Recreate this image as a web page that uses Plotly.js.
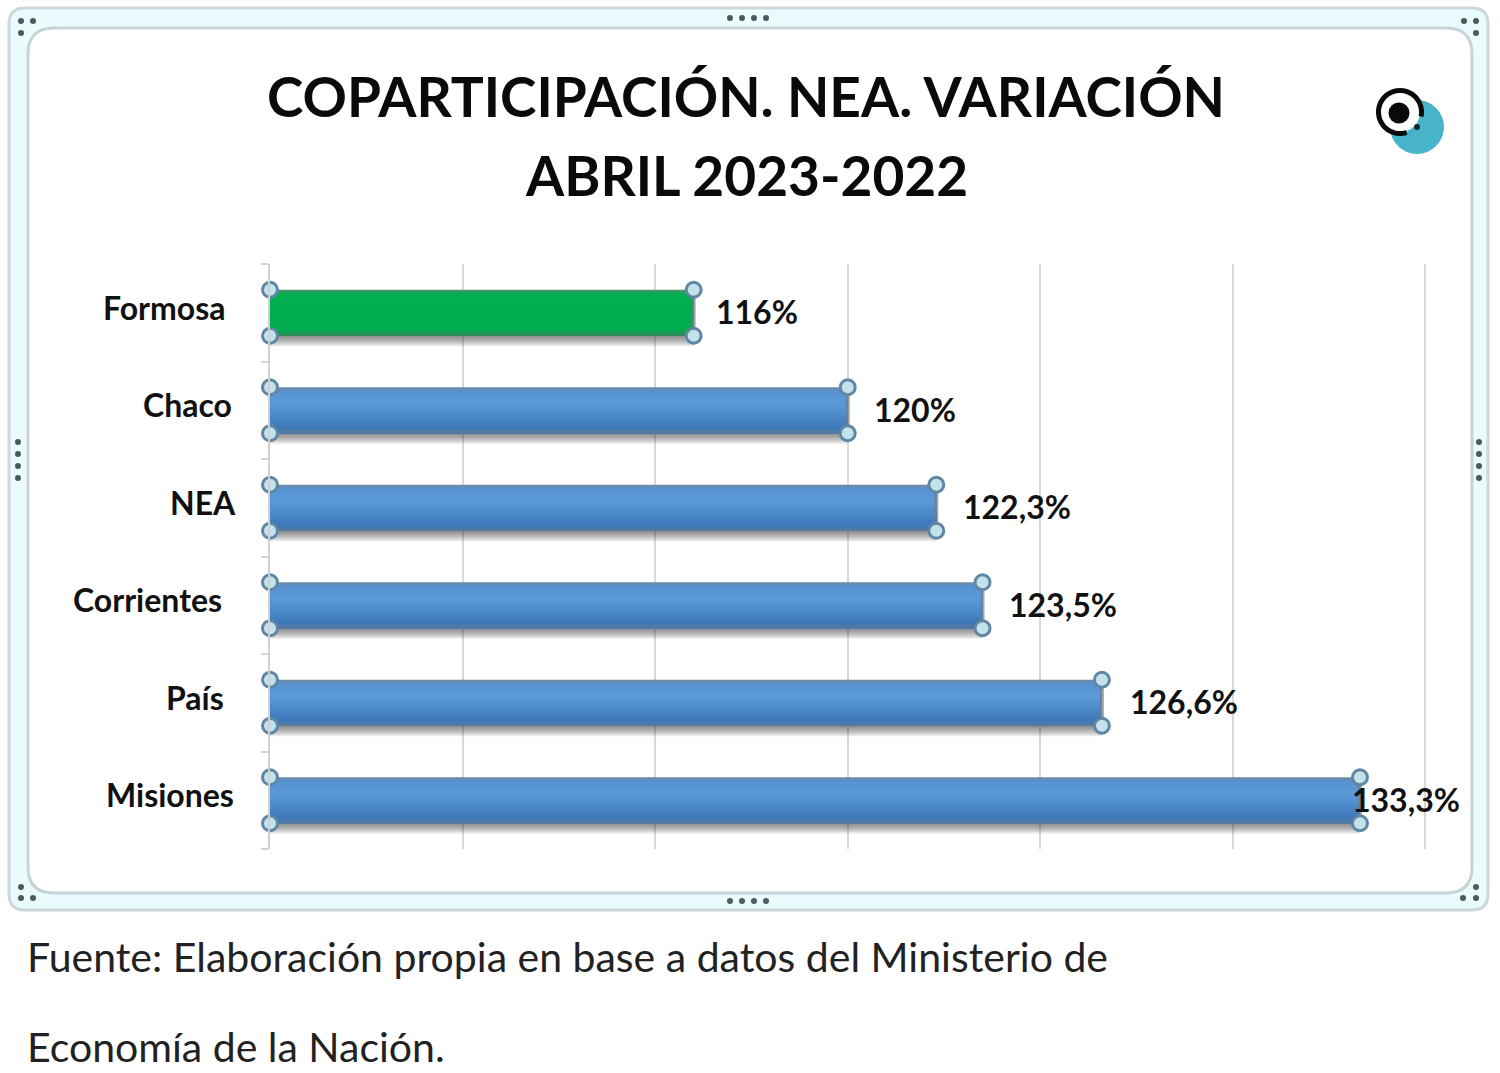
<!DOCTYPE html>
<html>
<head>
<meta charset="utf-8">
<script src="https://cdn.plot.ly/plotly-3.0.1.min.js"></script>
<style>
    html, body { margin: 0; padding: 0; background: #fff; }
    #chart { width: 1500px; height: 1073px; }
</style>
</head>
<body>
<div id="chart"></div>
<script>
// Chart data
const categories = ['Formosa', 'Chaco', 'NEA', 'Corrientes', 'País', 'Misiones'];
const values = [116, 120, 122.3, 123.5, 126.6, 133.3];
const valueLabels = ['116%', '120%', '122,3%', '123,5%', '126,6%', '133,3%'];
const titleLines = ['COPARTICIPACIÓN. NEA. VARIACIÓN', 'ABRIL 2023-2022'];
const sourceLines = ['Fuente: Elaboración propia en base a datos del Ministerio de', 'Economía de la Nación.'];
const axisMin = 105;
const axisMax = 135;
const axisStep = 5;

// Page and plot geometry, in pixels
const W = 1500, H = 1073;
const M = { l: 270, r: 73, t: 264, b: 224 };
const px = (x) => (x - M.l) / (W - M.l - M.r);
const py = (y) => 1 - (y - M.t) / (H - M.t - M.b);

// Hand placement of the labels, the original has them a bit uneven
const catRight = [227, 234, 238, 224, 226, 236];
const catShift = [5, 6, 5, 6, 5, 6];
const labelShift = [20, 24, 25, 24, 26, -10];

const barHalf = 0.236;
const FONT = 'Lato, "Open Sans", sans-serif';

// The library has no gradient for bars, so each bar is a stack of strips
const blueStops = [[0, [108, 138, 168]], [0.07, [86, 146, 210]], [0.35, [92, 154, 218]], [0.92, [60, 120, 184]], [1, [88, 122, 156]]];
const greenStops = [[0, [70, 150, 105]], [0.07, [0, 176, 80]], [0.9, [0, 172, 78]], [1, [50, 135, 90]]];
const shadowLayers = 7;
const stripCount = 23;

function rampColor(stops, t) {
    for (let i = 1; i < stops.length; i++) {
        if (t <= stops[i][0]) {
            const k = (t - stops[i - 1][0]) / (stops[i][0] - stops[i - 1][0]);
            const c = stops[i][1].map((v, j) => Math.round(stops[i - 1][1][j] + (v - stops[i - 1][1][j]) * k));
            return `rgb(${c[0]},${c[1]},${c[2]})`;
        }
    }
    return 'rgb(' + stops[stops.length - 1][1].join(',') + ')';
}

function stripTraces() {
    const traces = [];
    const ys = categories.map((c, i) => i);
    const h = barHalf * 2 / stripCount;

    // shadow under the bar, nested so the alpha builds up next to the bar
    for (let s = shadowLayers; s >= 1; s--) {
        traces.push({
            type: 'bar', orientation: 'h', x: values, y: ys,
            width: s * 0.0154, offset: barHalf,
            marker: { color: 'rgba(60,60,60,0.11)', line: { width: 0 } },
            hoverinfo: 'skip', showlegend: false
        });
    }

    // every strip runs down to the bar's bottom, the next one paints over it
    for (let s = 0; s < stripCount; s++) {
        const t = s / (stripCount - 1);
        traces.push({
            type: 'bar', orientation: 'h', x: values, y: ys,
            width: (stripCount - s) * h, offset: -barHalf + s * h,
            marker: { color: categories.map((c, i) => rampColor(i === 0 ? greenStops : blueStops, t)), line: { width: 0 } },
            hoverinfo: 'skip', showlegend: false
        });
    }
    return traces;
}

// Selection handles on the four corners of each bar
function handleTrace() {
    const x = [], y = [];
    values.forEach((v, i) => {
        [axisMin, v].forEach((xv) => {
            [-barHalf, barHalf].forEach((d) => {
                x.push(xv);
                y.push(i + d);
            });
        });
    });
    return {
        type: 'scatter', mode: 'markers', x: x, y: y, cliponaxis: false,
        marker: { size: 15, color: '#c4e2ec', line: { color: '#5f86a3', width: 3 } },
        hoverinfo: 'skip', showlegend: false
    };
}

function edgeTrace() {
    const x = [], y = [];
    values.forEach((v, i) => {
        x.push(v, v, null);
        y.push(i - barHalf, i + barHalf, null);
    });
    return {
        type: 'scatter', mode: 'lines', x: x, y: y, cliponaxis: false,
        line: { color: 'rgba(110,125,140,0.65)', width: 4 },
        hoverinfo: 'skip', showlegend: false
    };
}

function roundRect(x0, y0, x1, y1, r) {
    return `M${px(x0 + r)},${py(y0)} L${px(x1 - r)},${py(y0)} Q${px(x1)},${py(y0)} ${px(x1)},${py(y0 + r)} ` +
        `L${px(x1)},${py(y1 - r)} Q${px(x1)},${py(y1)} ${px(x1 - r)},${py(y1)} L${px(x0 + r)},${py(y1)} ` +
        `Q${px(x0)},${py(y1)} ${px(x0)},${py(y1 - r)} L${px(x0)},${py(y0 + r)} Q${px(x0)},${py(y0)} ${px(x0 + r)},${py(y0)} Z`;
}

function circle(cx, cy, r, fill, lineColor, lineWidth) {
    return {
        type: 'circle', xref: 'paper', yref: 'paper', layer: 'below',
        x0: px(cx - r), x1: px(cx + r), y0: py(cy + r), y1: py(cy - r),
        fillcolor: fill, line: { color: lineColor || fill, width: lineWidth || 0 }
    };
}

function frameShapes() {
    const shapes = [
        { type: 'path', xref: 'paper', yref: 'paper', layer: 'below', path: roundRect(9, 8, 1488, 910, 16),
          fillcolor: '#e9fbfc', line: { color: '#cdd8da', width: 3 } },
        { type: 'path', xref: 'paper', yref: 'paper', layer: 'below', path: roundRect(28, 28, 1472, 893, 26),
          fillcolor: '#ffffff', line: { color: '#c8d3d6', width: 3 } }
    ];
    const grips = [
        [21, 21], [33, 21], [21, 33],
        [1464, 21], [1476, 21], [1476, 33],
        [21, 887], [21, 898], [33, 898],
        [1476, 887], [1463, 898], [1476, 898]
    ];
    [730, 742, 754, 766].forEach((x) => {
        grips.push([x, 18], [x, 901]);
    });
    [442, 454, 466, 478].forEach((y) => {
        grips.push([18, y], [1479, y]);
    });
    grips.forEach((g) => shapes.push(circle(g[0], g[1], 3, '#4a5a60')));
    return shapes;
}

// Small logo in the top right corner
function logoShapes() {
    const pts = [];
    for (let a = -12; a <= 290; a += 4) {
        const t = a * Math.PI / 180;
        pts.push(`${px(1400 + 21.5 * Math.cos(t))},${py(112 - 21.5 * Math.sin(t))}`);
    }
    return [
        circle(1417, 127, 27, '#47b4cb'),
        circle(1400, 112, 20, '#ffffff'),
        { type: 'path', xref: 'paper', yref: 'paper', layer: 'below',
          path: 'M' + pts.join(' L'), line: { color: '#0a0a0a', width: 5 } },
        circle(1399, 113, 10.5, '#0a0a0a'),
        circle(1417, 127, 3, '#0a2a33')
    ];
}

function annotations() {
    const list = [];
    categories.forEach((c, i) => {
        list.push({
            text: c, xref: 'paper', x: px(catRight[i]), xanchor: 'right',
            yref: 'y', y: i, yshift: catShift[i], yanchor: 'middle', showarrow: false,
            font: { family: FONT, size: 32, color: '#111', weight: 700 }
        });
    });
    values.forEach((v, i) => {
        list.push({
            text: valueLabels[i], xref: 'x', x: v, xanchor: 'left', xshift: labelShift[i],
            yref: 'y', y: i, yshift: 1, yanchor: 'middle', showarrow: false,
            font: { family: FONT, size: 32, color: '#111', weight: 700 }
        });
    });
    titleLines.forEach((t, i) => {
        list.push({
            text: t, xref: 'paper', x: px(746), xanchor: 'center',
            yref: 'paper', y: py(96 + i * 79), yanchor: 'middle', showarrow: false,
            font: { family: FONT, size: 55, color: '#0a0a0a', weight: 700 }
        });
    });
    sourceLines.forEach((t, i) => {
        list.push({
            text: t, xref: 'paper', x: px(25), xanchor: 'left',
            yref: 'paper', y: py(956 + i * 90), yanchor: 'middle', showarrow: false,
            font: { family: FONT, size: 41, color: '#222' }
        });
    });
    return list;
}

const layout = {
    width: W,
    height: H,
    margin: M,
    paper_bgcolor: '#ffffff',
    plot_bgcolor: 'rgba(0,0,0,0)',
    barmode: 'overlay',
    showlegend: false,
    xaxis: {
        range: [axisMin, axisMax + 0.04],
        dtick: axisStep,
        tick0: axisMin,
        showticklabels: false,
        showgrid: true,
        gridcolor: '#d8d8d8',
        gridwidth: 2,
        zeroline: false,
        ticks: ''
    },
    yaxis: {
        range: [categories.length - 0.5, -0.5],
        tickmode: 'array',
        tickvals: categories.map((c, i) => i - 0.5).concat(categories.length - 0.5),
        ticks: 'outside',
        ticklen: 7,
        tickcolor: '#d4d4d4',
        tickwidth: 2,
        showticklabels: false,
        showgrid: false,
        zeroline: false,
        showline: true,
        linecolor: '#d0d0d0',
        linewidth: 2
    },
    shapes: frameShapes().concat(logoShapes()),
    annotations: annotations()
};

Plotly.newPlot('chart', stripTraces().concat([edgeTrace(), handleTrace()]), layout, { displayModeBar: false, staticPlot: true });
</script>
</body>
</html>
